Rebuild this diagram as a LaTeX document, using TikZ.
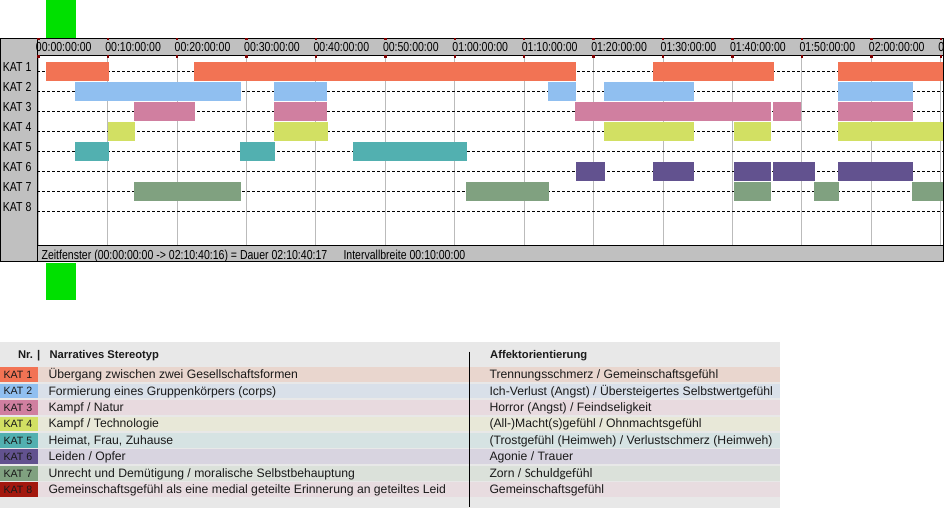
\documentclass[tikz,border=0pt]{standalone}
\usepackage{fontspec}
\setmainfont{Liberation Sans}
\newfontfamily\chartfont[FakeStretch=0.81]{Liberation Sans}
\newfontfamily\calfont{Carlito}
\definecolor{kat1}{HTML}{F27354}
\definecolor{kat2}{HTML}{90BFF0}
\definecolor{kat3}{HTML}{D07FA0}
\definecolor{kat4}{HTML}{D2E063}
\definecolor{kat5}{HTML}{52B0B0}
\definecolor{kat6}{HTML}{62528F}
\definecolor{kat7}{HTML}{80A180}
\definecolor{kat8}{HTML}{A3180E}
\definecolor{tint1}{HTML}{E9D6CE}
\definecolor{tint2}{HTML}{D9E0E9}
\definecolor{tint3}{HTML}{E8DADF}
\definecolor{tint4}{HTML}{E8E8D8}
\definecolor{tint5}{HTML}{D6E3E3}
\definecolor{tint6}{HTML}{D8D4E0}
\definecolor{tint7}{HTML}{DBE1DA}
\definecolor{tint8}{HTML}{E8DCE0}
\definecolor{winGray}{HTML}{C0C0C0}
\definecolor{tableBg}{HTML}{E8E8E8}
\definecolor{gridGray}{HTML}{BBBBBB}
\definecolor{tickRed}{HTML}{800000}
\definecolor{markGreen}{HTML}{00E000}
\definecolor{tabText}{HTML}{1A1A1A}
\begin{document}
\begin{tikzpicture}[x=1pt,y=-1pt,
  charttext/.style={inner sep=0pt,anchor=base west,font=\chartfont\fontsize{13}{15}\selectfont},
  tabtext/.style={inner sep=0pt,anchor=base west,text=tabText,font=\fontsize{12.2}{14}\selectfont},
  tabhead/.style={inner sep=0pt,anchor=base west,text=tabText,font=\bfseries\fontsize{11.2}{13}\selectfont},
  katcell/.style={inner sep=0pt,anchor=base west,text=tabText,font=\fontsize{10.6}{12}\selectfont},
  rowline/.style={black,line width=0.9pt,dash pattern=on 3pt off 2pt},
  gridline/.style={gridGray,line width=1pt},
  frameline/.style={black,line width=1.3pt}]
\useasboundingbox (0,0) rectangle (945,530);
\fill[white] (0,0) rectangle (945,530);

% green markers
\fill[markGreen] (46,0) rectangle (76,38);
\fill[markGreen] (46,262.5) rectangle (76,300);

% chart window
\fill[winGray] (0,38) rectangle (944,262);
\fill[white] (37,55) rectangle (944,245);

% grid lines
\foreach \k in {0,...,13}{
  \draw[gridline] ({38.3+69.42*\k},55) -- ({38.3+69.42*\k},245);
}
% dashed row lines
\foreach \r in {1,...,8}{
  \draw[rowline] (37,{71.7+20*(\r-1)}) -- (943,{71.7+20*(\r-1)});
}
% bars
\foreach \r/\a/\b in {
  1/46/109, 1/194.3/576, 1/653.3/773.7, 1/838.3/943.5,
  2/75.3/240.7, 2/274.3/327.3, 2/548.3/576, 2/604.3/693.7, 2/838.3/912.7,
  3/134.3/194.7, 3/274.3/327.3, 3/575.3/771, 3/773/801, 3/838.3/912.7,
  4/107.7/134.7, 4/274.3/327.7, 4/604.3/693.7, 4/734.3/771, 4/838.3/943.5,
  5/75.3/109, 5/240.3/275, 5/353.3/466.7,
  6/575.7/604.7, 6/653.3/693.7, 6/734.3/770.7, 6/773/814.7, 6/838.3/912.7,
  7/134.3/240.7, 7/466.3/548.7, 7/734.3/770.7, 7/814.3/838.7, 7/912.3/943.5}{
  \fill[kat\r] (\a,{71.7+20*(\r-1)-9.7}) rectangle (\b,{71.7+20*(\r-1)+9.3});
}

% frame lines
\draw[black,line width=1pt] (37,55) -- (944,55);
\draw[black,line width=1pt] (37,245) -- (944,245);
\draw[black,line width=1pt] (37,38) -- (37,262);

% header labels
\foreach \k/\lab in {0/00:00:00:00,1/00:10:00:00,2/00:20:00:00,3/00:30:00:00,
  4/00:40:00:00,5/00:50:00:00,6/01:00:00:00,7/01:10:00:00,8/01:20:00:00,
  9/01:30:00:00,10/01:40:00:00,11/01:50:00:00,12/02:00:00:00}{
  \node[charttext] (hdr\k) at ({38.3+69.42*\k-2.6},51.7) {\lab};
}
\node[charttext] (hdr13) at (938.2,51.7) {0};

\draw[frameline] (0.6,38.6) rectangle (943.6,261.8);

% tick marks
\foreach \k in {0,...,13}{
  \fill[tickRed] ({38.3+69.42*\k-1.2},37.6) rectangle ({38.3+69.42*\k+1.2},40);
  \fill[tickRed] ({38.3+69.42*\k-1.2},55.3) rectangle ({38.3+69.42*\k+1.2},57.5);
}

% row labels
\foreach \r in {1,...,8}{
  \node[charttext] (kat\r) at (2.7,{71.7+20*(\r-1)}) {KAT \r};
}

% footer
\node[charttext] (zeit) at (41.4,259.8) {Zeitfenster (00:00:00:00 -> 02:10:40:16) = Dauer 02:10:40:17};
\node[charttext] (intv) at (343.3,259.8) {Intervallbreite 00:10:00:00};

% legend table
\fill[tableBg] (0,342.3) rectangle (780,507.5);
\node[tabhead,anchor=base east] (nr) at (40.5,358) {Nr. |};
\node[tabhead] (narr) at (49.3,358) {Narratives Stereotyp};
\node[tabhead] (affk) at (490,358) {Affektorientierung};

\foreach \r/\ta/\tb in {
  1/{Übergang zwischen zwei Gesellschaftsformen}/{Trennungsschmerz / Gemeinschaftsgefühl},
  2/{Formierung eines Gruppenkörpers (corps)}/{Ich-Verlust (Angst) / Übersteigertes Selbstwertgefühl},
  3/{Kampf / Natur}/{Horror (Angst) / Feindseligkeit},
  4/{Kampf / Technologie}/{(All-)Macht(s)gefühl / Ohnmachtsgefühl},
  5/{Heimat, Frau, Zuhause}/{(Trostgefühl (Heimweh) / Verlustschmerz (Heimweh)},
  6/{Leiden / Opfer}/{Agonie / Trauer},
  7/{Unrecht und Demütigung / moralische Selbstbehauptung}/{Zorn / {\calfont\fontsize{13}{14}\selectfont Schuldgefühl}},
  8/{Gemeinschaftsgefühl als eine medial geteilte Erinnerung an geteiltes Leid}/{Gemeinschaftsgefühl}}{
  \fill[tint\r] (38.3,{367.3+16.43*(\r-1)}) rectangle (780,{367.3+16.43*(\r-1)+14.7});
  \fill[kat\r] (0,{367.3+16.43*(\r-1)}) rectangle (38.3,{367.3+16.43*(\r-1)+14.7});
  \node[katcell] (cell\r) at (3.3,{367.3+16.43*(\r-1)+11.2}) {KAT \r};
  \node[tabtext] (ster\r) at (48.3,{367.3+16.43*(\r-1)+11.3}) {\ta};
  \node[tabtext] (aff\r) at (489.3,{367.3+16.43*(\r-1)+11.3}) {\tb};
}
\draw[black,line width=1pt] (469.3,351.7) -- (469.3,506.7);
\end{tikzpicture}
\end{document}
